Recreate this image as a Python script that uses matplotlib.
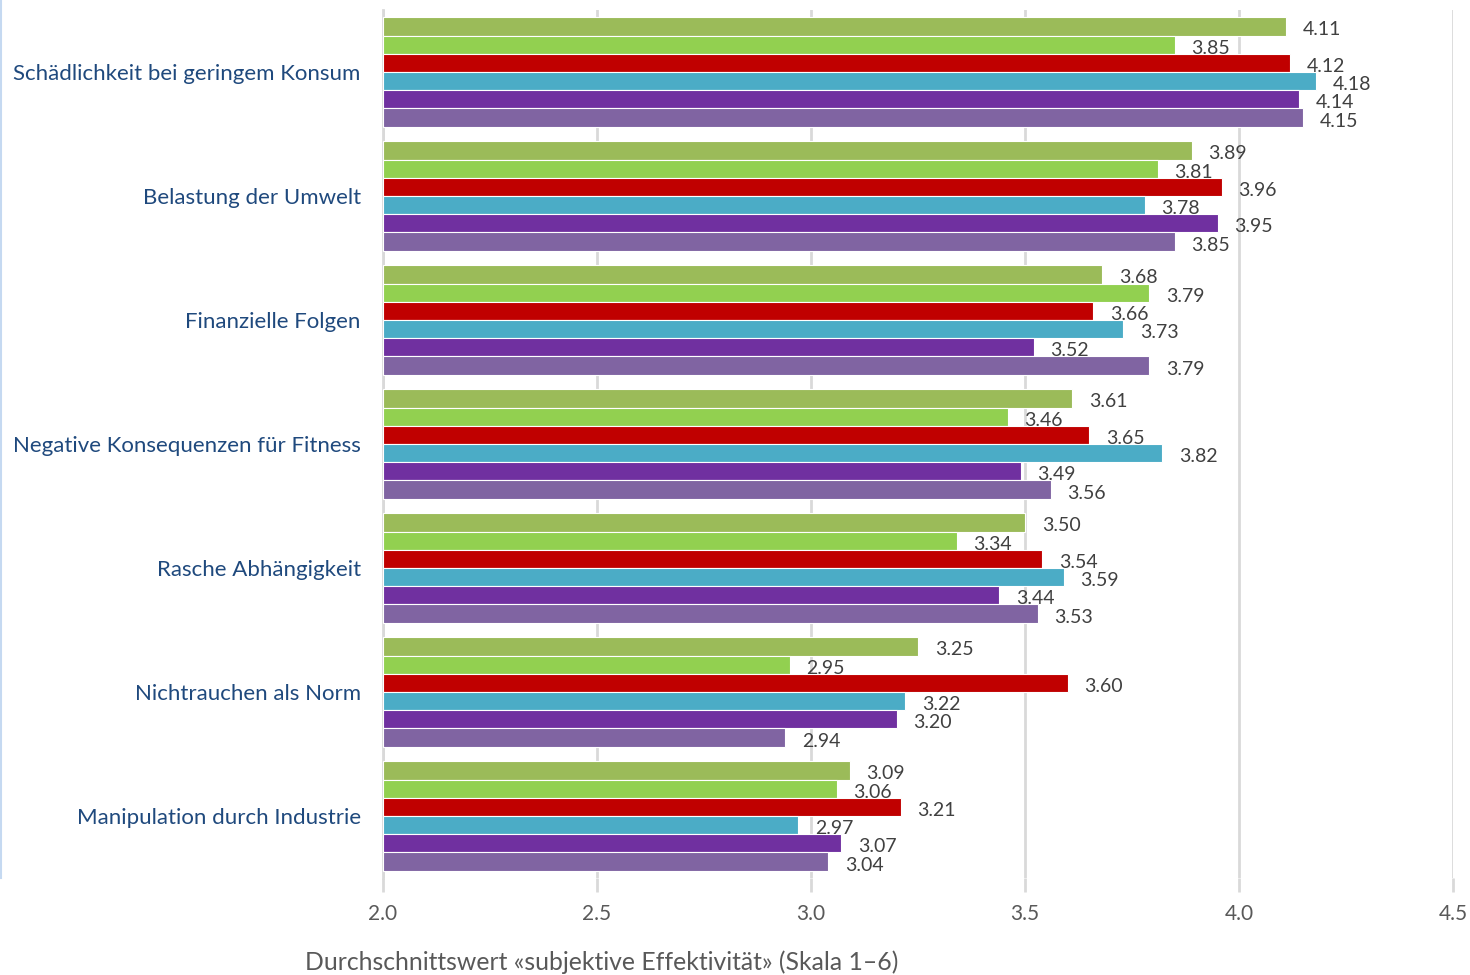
import matplotlib.pyplot as plt
import numpy as np
from matplotlib.lines import Line2D

plt.rcParams['font.family'] = ['Lato', 'DejaVu Sans']

categories = [
    'Schädlichkeit bei geringem Konsum', 'Belastung der Umwelt', 'Finanzielle Folgen',
    'Negative Konsequenzen für Fitness', 'Rasche Abhängigkeit', 'Nichtrauchen als Norm',
    'Manipulation durch Industrie'
]
s1 = [4.11, 3.89, 3.68, 3.61, 3.50, 3.25, 3.09]
s2 = [3.85, 3.81, 3.79, 3.46, 3.34, 2.95, 3.06]
s3 = [4.12, 3.96, 3.66, 3.65, 3.54, 3.60, 3.21]
s4 = [4.18, 3.78, 3.73, 3.82, 3.59, 3.22, 2.97]
s5 = [4.14, 3.95, 3.52, 3.49, 3.44, 3.20, 3.07]
s6 = [4.15, 3.85, 3.79, 3.56, 3.53, 2.94, 3.04]
series = [s1, s2, s3, s4, s5, s6]
colors = ['#9BBB59', '#92D050', '#C00000', '#4BACC6', '#7030A0', '#8064A2']
xticks = [2.0, 2.5, 3.0, 3.5, 4.0, 4.5]

fig = plt.figure(figsize=(14.7, 9.75), dpi=100)
ax = fig.add_axes([383 / 1470, 1 - 878 / 975, 1070 / 1470, 868 / 975])

y = np.arange(len(categories))
h = 0.147
for j, (vals, c) in enumerate(zip(series, colors)):
    pos = y + (j - 2.5) * h
    ax.barh(pos, np.array(vals) - 2.0, left=2.0, height=h, color=c,
            edgecolor='white', linewidth=0.8, zorder=3)
    for p, v in zip(pos, vals):
        ax.annotate(f'{v:.2f}', (v, p), xytext=(12, -2.5), textcoords='offset points',
                    ha='left', va='center', fontsize=14, color='#404040', zorder=4)

ax.set_xlim(2.0, 4.5)
ax.set_ylim(len(categories) - 0.5, -0.5)
ax.set_xticks(xticks)
ax.set_xticklabels([f'{t:.1f}' for t in xticks], fontsize=15, color='#595959')
ax.set_yticks(y)
ax.set_yticklabels(categories, fontsize=16, color='#1F497D')
ax.grid(axis='x', color='#D9D9D9', linewidth=2, zorder=0)
for s in ['top', 'right', 'bottom']:
    ax.spines[s].set_visible(False)
ax.spines['left'].set_color('#D9D9D9')
ax.spines['left'].set_linewidth(2)
ax.tick_params(axis='y', length=0, pad=16)
ax.tick_params(axis='x', length=10, width=2, color='#D9D9D9', pad=9)

fig.text(305 / 1470, 1 - 962 / 975, 'Durchschnittswert «subjektive Effektivität» (Skala 1–6)',
         fontsize=17.8, color='#595959', ha='left', va='center')
fig.add_artist(Line2D([0.0008, 0.0008], [0.1, 1], color='#C5D9F1', linewidth=1.5))

fig.savefig('out.png', dpi=100)
